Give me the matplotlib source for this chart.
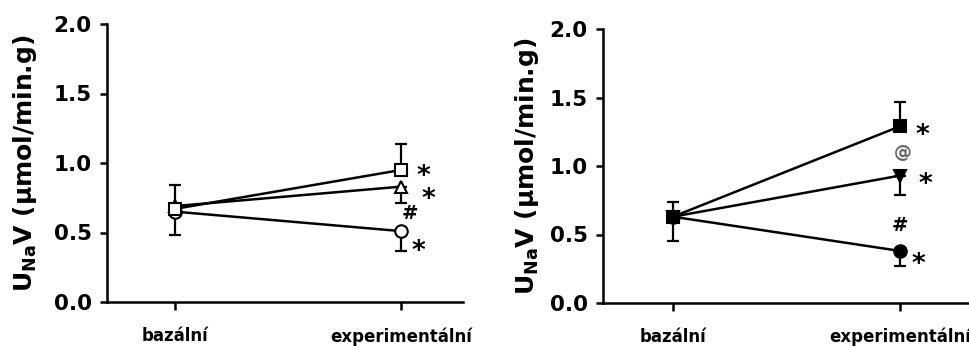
import matplotlib
matplotlib.use("Agg")
import matplotlib.pyplot as plt

plt.rcParams['font.family'] = ['DejaVu Sans']
plt.rcParams['font.weight'] = 'bold'
plt.rcParams['mathtext.fontset'] = 'custom'
plt.rcParams['mathtext.rm'] = 'DejaVu Sans:bold'
plt.rcParams['mathtext.it'] = 'DejaVu Sans:bold'
plt.rcParams['mathtext.bf'] = 'DejaVu Sans:bold'

categories = ['bazální', 'experimentální']
yticks = [0.0, 0.5, 1.0, 1.5, 2.0]
ylabel = r'U$_{\mathrm{Na}}$V (µmol/min.g)'

# Left panel (open markers)
left_square = [0.67, 0.95]
left_square_err_up = [0.17, 0.19]
left_triangle = [0.69, 0.83]
left_triangle_err_low = [0.0, 0.12]
left_circle = [0.65, 0.51]
left_circle_err_low = [0.17, 0.14]
left_notes = [('*', 1.10, 0.96), ('*', 1.12, 0.79), ('#', 1.04, 0.65), ('*', 1.075, 0.42)]

# Right panel (filled markers)
right_square = [0.63, 1.29]
right_square_err_up = [0.11, 0.18]
right_triangle = [0.63, 0.93]
right_triangle_err_low = [0.0, 0.14]
right_circle = [0.63, 0.38]
right_circle_err_low = [0.18, 0.11]
right_notes = [('*', 1.10, 1.28), ('@', 1.01, 1.10), ('*', 1.11, 0.92), ('#', 1.0, 0.58), ('*', 1.08, 0.34)]

fig = plt.figure(figsize=(9.7, 3.47), dpi=100)
axL = fig.add_axes([107/970, 1-302/347, 356/970, 278/347])
axR = fig.add_axes([603/970, 1-303/347, 367/970, 274/347])

x = [0, 1]

def style(ax, xlim, lab_x):
    ax.set_xlim(*xlim)
    ax.set_ylim(0, 2.0)
    ax.set_yticks(yticks)
    ax.set_yticklabels([f'{v:.1f}' for v in yticks], fontsize=15.5, fontweight='bold')
    ax.set_xticks(x)
    ax.set_xticklabels(categories, fontsize=12, fontweight='bold')
    for s in ['top', 'right']:
        ax.spines[s].set_visible(False)
    for s in ['left', 'bottom']:
        ax.spines[s].set_linewidth(1.8)
    ax.tick_params(axis='y', direction='out', length=5, width=1.8, pad=6)
    ax.tick_params(axis='x', direction='out', length=6, width=1.8, pad=12)
    ax.set_ylabel(ylabel, fontsize=18, fontweight='bold')
    ax.yaxis.set_label_coords(lab_x, 0.5)

def series(ax, y, marker, face, err, upper, ms=9):
    if upper:
        yerr = [[0, 0], err]
    else:
        yerr = [err, [0, 0]]
    ax.errorbar(x, y, yerr=yerr, fmt='none', ecolor='black', elinewidth=1.6,
                capsize=4, capthick=1.6, zorder=2)
    ax.plot(x, y, color='black', linewidth=1.8, marker=marker, markersize=ms,
            markerfacecolor=face, markeredgecolor='black', markeredgewidth=1.5, zorder=3)

def notes(ax, items):
    for t, xx, yy in items:
        col = 'black'
        if t == '*':
            fs = 19
            off = -0.58 * fs
        elif t == '#':
            fs = 14
            off = -0.36 * fs
        else:
            fs = 13
            off = -0.30 * fs
            col = '#666666'
        ax.annotate(t, xy=(xx, yy), xytext=(0, off), textcoords='offset points',
                    ha='center', va='baseline', fontsize=fs, fontweight='bold', color=col)

series(axL, left_circle, 'o', 'white', left_circle_err_low, False)
series(axL, left_triangle, '^', 'white', left_triangle_err_low, False)
series(axL, left_square, 's', 'white', left_square_err_up, True)
style(axL, (-0.301, 1.274), -0.19)
notes(axL, left_notes)

series(axR, right_circle, 'o', 'black', right_circle_err_low, False)
series(axR, right_triangle, 'v', 'black', right_triangle_err_low, False)
series(axR, right_square, 's', 'black', right_square_err_up, True)
style(axR, (-0.308, 1.308), -0.17)
notes(axR, right_notes)

fig.savefig('out.png', dpi=100)
